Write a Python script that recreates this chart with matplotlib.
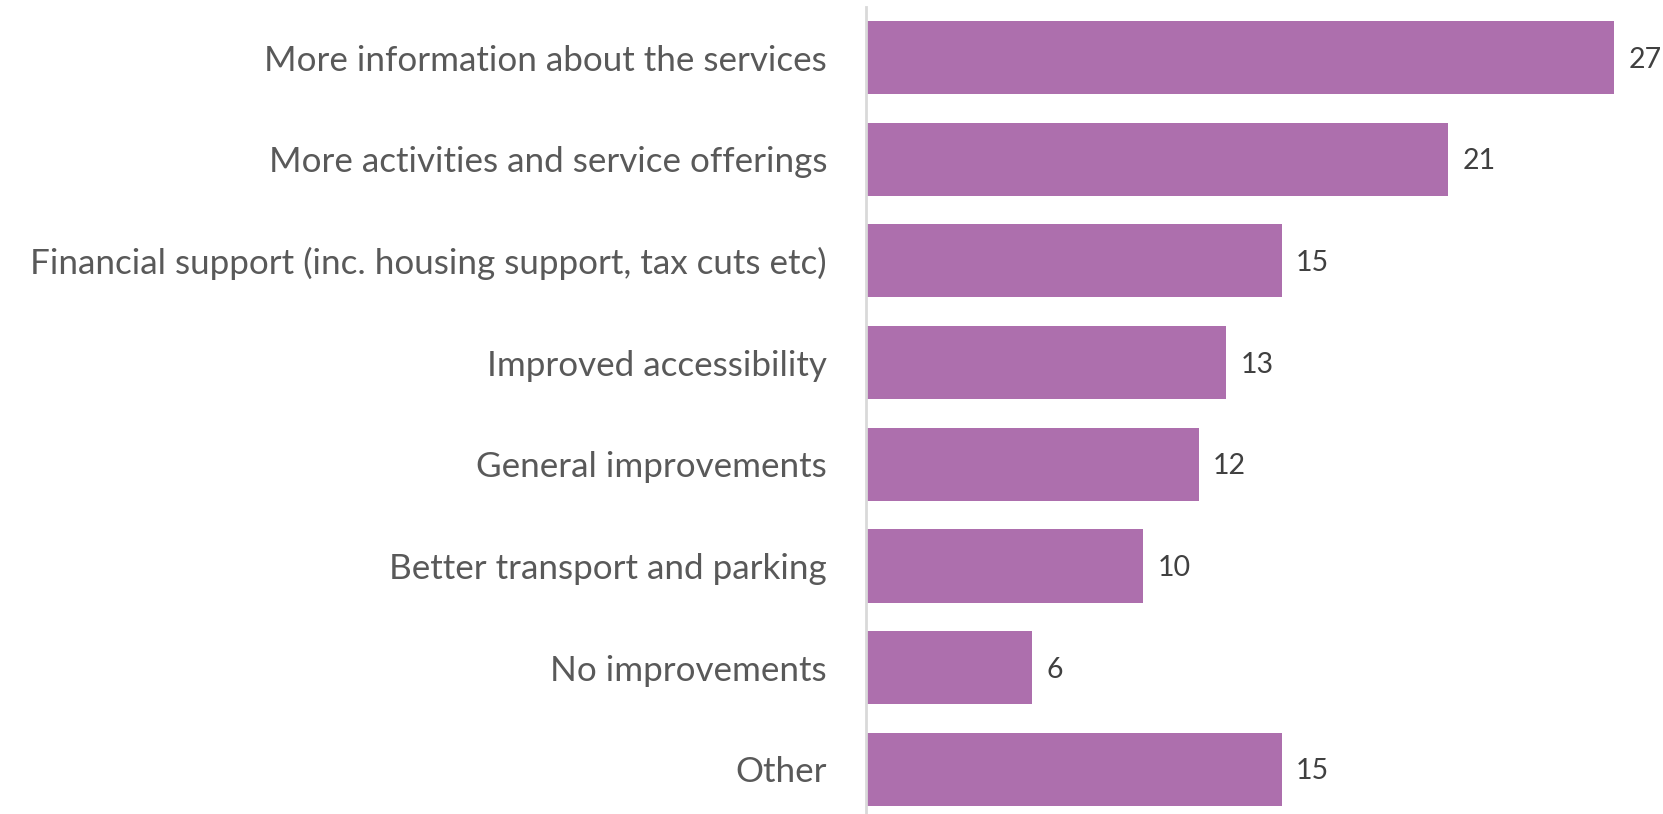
import matplotlib.pyplot as plt

categories = [
    "More information about the services",
    "More activities and service offerings",
    "Financial support (inc. housing support, tax cuts etc)",
    "Improved accessibility",
    "General improvements",
    "Better transport and parking",
    "No improvements",
    "Other",
]
values = [27, 21, 15, 13, 12, 10, 6, 15]

plt.rcParams['font.family'] = ['Lato', 'DejaVu Sans']

fig = plt.figure(figsize=(16.63, 8.14), dpi=100)
ax = fig.add_axes([0.5207, 0.0, 0.475, 0.9914])

ypos = range(len(categories))
bars = ax.barh(ypos, values, height=0.72, color='#ad6fad')

# value labels just past the end of each bar
for y, v in zip(ypos, values):
    ax.text(v + 0.52, y + 0.02, str(v), va='center', ha='left', fontsize=20.5, color='#404040')

ax.set_yticks(list(ypos))
ax.set_yticklabels(categories, fontsize=25.2, color='#595959')
ax.tick_params(axis='y', length=0, pad=28)
ax.set_xticks([])
ax.set_xlim(0, 28.5)
ax.set_ylim(7.44, -0.497)

for side in ['top', 'right', 'bottom']:
    ax.spines[side].set_visible(False)
ax.spines['left'].set_color('#d9d9d9')
ax.spines['left'].set_linewidth(2)

fig.savefig('out.png', dpi=100)
